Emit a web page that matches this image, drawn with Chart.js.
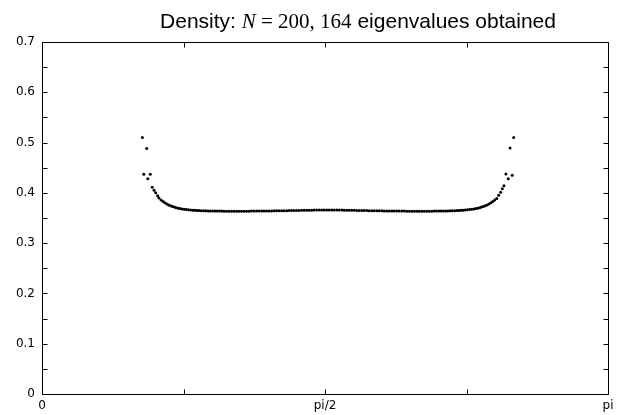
<!DOCTYPE html>
<html lang="en">
<head>
  <meta charset="UTF-8">
  <title>Density: N = 200, 164 eigenvalues obtained</title>
  <script src="https://cdn.jsdelivr.net/npm/chart.js"></script>
  <style>
    html, body { margin: 0; padding: 0; background: #fff; }
  </style>
</head>
<body>
  <canvas id="density" width="624" height="415"></canvas>
  <script>
    // left edge of the spectrum (sparse points)
    const edgeLeftTheta   = [0.557, 0.581, 0.565, 0.601, 0.587, 0.612, 0.622, 0.631, 0.642, 0.649];
    const edgeLeftDensity = [0.510, 0.488, 0.437, 0.437, 0.428, 0.411, 0.405, 0.400, 0.394, 0.390];

    // bulk of the spectrum
    const bulkTheta = [
      0.661, 0.672, 0.682, 0.693, 0.703, 0.714, 0.724, 0.735, 0.745, 0.756, 0.766,
      0.778, 0.790, 0.801, 0.813, 0.825, 0.837, 0.849, 0.860, 0.872, 0.884,
      0.897, 0.909, 0.922, 0.934, 0.947, 0.960, 0.972, 0.985, 0.997, 1.010,
      1.024, 1.038, 1.052, 1.066, 1.080, 1.093, 1.107, 1.121, 1.135, 1.149,
      1.163, 1.177, 1.191, 1.205, 1.219, 1.232, 1.246, 1.260, 1.274, 1.288,
      1.302, 1.316, 1.330, 1.344, 1.358, 1.371, 1.385, 1.399, 1.413, 1.427,
      1.441, 1.455, 1.469, 1.483, 1.497, 1.510, 1.524, 1.538, 1.552, 1.566, 1.580,
      1.594, 1.608, 1.622, 1.636, 1.650, 1.664, 1.677, 1.691, 1.705, 1.719, 1.733,
      1.747, 1.761, 1.775, 1.789, 1.803, 1.816, 1.830, 1.844, 1.858, 1.872,
      1.886, 1.900, 1.914, 1.928, 1.942, 1.955, 1.969, 1.983, 1.997, 2.011,
      2.025, 2.039, 2.053, 2.067, 2.081, 2.094, 2.108, 2.122, 2.136, 2.150,
      2.164, 2.177, 2.189, 2.202, 2.214, 2.227, 2.240, 2.252, 2.265, 2.277,
      2.290, 2.302, 2.314, 2.325, 2.337, 2.349, 2.361, 2.373, 2.384, 2.396,
      2.408, 2.418, 2.429, 2.439, 2.450, 2.460, 2.471, 2.481, 2.492, 2.502, 2.513
    ];
    const bulkDensity = [
      0.3860, 0.3830, 0.3805, 0.3780, 0.3760, 0.3745, 0.3730, 0.3717, 0.3705, 0.3695, 0.3687,
      0.3679, 0.3672, 0.3667, 0.3663, 0.3659, 0.3656, 0.3653, 0.3650, 0.3648, 0.3646,
      0.3644, 0.3643, 0.3641, 0.3640, 0.3639, 0.3638, 0.3638, 0.3637, 0.3637, 0.3636,
      0.3636, 0.3636, 0.3635, 0.3635, 0.3635, 0.3635, 0.3635, 0.3636, 0.3636, 0.3636,
      0.3637, 0.3637, 0.3638, 0.3638, 0.3639, 0.3639, 0.3640, 0.3641, 0.3641, 0.3642,
      0.3643, 0.3644, 0.3645, 0.3645, 0.3646, 0.3647, 0.3648, 0.3649, 0.3650, 0.3651,
      0.3652, 0.3653, 0.3654, 0.3655, 0.3656, 0.3657, 0.3657, 0.3658, 0.3659, 0.3659, 0.3660,
      0.3660, 0.3659, 0.3659, 0.3658, 0.3657, 0.3657, 0.3656, 0.3655, 0.3654, 0.3653, 0.3652,
      0.3651, 0.3650, 0.3649, 0.3648, 0.3647, 0.3646, 0.3645, 0.3645, 0.3644, 0.3643,
      0.3642, 0.3641, 0.3641, 0.3640, 0.3639, 0.3639, 0.3638, 0.3638, 0.3637, 0.3637,
      0.3636, 0.3636, 0.3636, 0.3635, 0.3635, 0.3635, 0.3635, 0.3635, 0.3636, 0.3636,
      0.3636, 0.3637, 0.3637, 0.3638, 0.3638, 0.3639, 0.3640, 0.3641, 0.3643, 0.3644,
      0.3646, 0.3648, 0.3650, 0.3653, 0.3656, 0.3659, 0.3663, 0.3667, 0.3672, 0.3679,
      0.3687, 0.3695, 0.3705, 0.3717, 0.3730, 0.3745, 0.3760, 0.3780, 0.3805, 0.3830, 0.3860
    ];

    // right edge of the spectrum (sparse points)
    const edgeRightTheta   = [2.618, 2.598, 2.575, 2.610, 2.588, 2.564, 2.555, 2.546, 2.535, 2.524];
    const edgeRightDensity = [0.510, 0.489, 0.4375, 0.435, 0.428, 0.414, 0.408, 0.401, 0.395, 0.389];

    const xTickValues = [0, Math.PI / 4, Math.PI / 2, 3 * Math.PI / 4, Math.PI];
    const xTickLabels = ['0', '', 'pi/2', '', 'pi'];
    const yTickValues = [0, 0.05, 0.1, 0.15, 0.2, 0.25, 0.3, 0.35, 0.4, 0.45, 0.5, 0.55, 0.6, 0.65, 0.7];
    const yTickLabels = ['0', '', '0.1', '', '0.2', '', '0.3', '', '0.4', '', '0.5', '', '0.6', '', '0.7'];

    const titleParts = [
      { text: 'Density: ', font: '21px "Liberation Sans", Arial, sans-serif' },
      { text: 'N', font: 'italic 21px "Liberation Serif", "DejaVu Serif", serif' },
      { text: ' = 200, ', font: '21px "Liberation Serif", "DejaVu Serif", serif' },
      { text: '164', font: '21px "Liberation Serif", "DejaVu Serif", serif' },
      { text: ' eigenvalues obtained', font: '21px "Liberation Sans", Arial, sans-serif' }
    ];

    const TICK_FONT = { family: '"DejaVu Sans", Arial, sans-serif', size: 12 };
    const TICK_LEN = 5;

    function toPoints(xs, ys) {
      return xs.map((x, i) => ({ x: x, y: ys[i] }));
    }

    // gnuplot style box with inward ticks on all four sides, plus the mixed-font title
    const gnuplotFrame = {
      id: 'gnuplotFrame',
      afterDraw(chart) {
        const ctx = chart.ctx;
        const a = chart.chartArea;
        const xs = chart.scales.x;
        const ys = chart.scales.y;
        const L = Math.round(a.left) + 0.5, R = Math.round(a.right) + 0.5;
        const T = Math.round(a.top) + 0.5, B = Math.round(a.bottom) + 0.5;
        ctx.save();
        ctx.strokeStyle = '#000';
        ctx.lineWidth = 1;
        ctx.beginPath();
        ctx.rect(L, T, R - L, B - T);
        xs.ticks.forEach(t => {
          const px = Math.round(xs.getPixelForValue(t.value)) + 0.5;
          ctx.moveTo(px, B); ctx.lineTo(px, B - TICK_LEN);
          ctx.moveTo(px, T); ctx.lineTo(px, T + TICK_LEN);
        });
        ys.ticks.forEach(t => {
          const py = Math.round(ys.getPixelForValue(t.value)) + 0.5;
          ctx.moveTo(L, py); ctx.lineTo(L + TICK_LEN, py);
          ctx.moveTo(R, py); ctx.lineTo(R - TICK_LEN, py);
        });
        ctx.stroke();

        // title
        ctx.fillStyle = '#000';
        ctx.textBaseline = 'alphabetic';
        ctx.textAlign = 'left';
        let total = 0;
        titleParts.forEach(p => { ctx.font = p.font; total += ctx.measureText(p.text).width; });
        let x = 358 - total / 2;
        titleParts.forEach(p => {
          ctx.font = p.font;
          ctx.fillText(p.text, x, 28);
          x += ctx.measureText(p.text).width;
        });
        ctx.restore();
      }
    };

    new Chart(document.getElementById('density'), {
      type: 'scatter',
      data: {
        datasets: [{
          label: 'density',
          data: toPoints(edgeLeftTheta, edgeLeftDensity)
            .concat(toPoints(bulkTheta, bulkDensity))
            .concat(toPoints(edgeRightTheta, edgeRightDensity)),
          backgroundColor: '#000',
          borderWidth: 0,
          pointRadius: 1.5,
          pointHoverRadius: 1.5
        }]
      },
      options: {
        responsive: false,
        animation: false,
        layout: { padding: { top: 42, right: 16, left: 0, bottom: 0 } },
        plugins: {
          legend: { display: false },
          title: { display: false },
          tooltip: { enabled: false }
        },
        scales: {
          x: {
            type: 'linear',
            min: 0,
            max: Math.PI,
            afterBuildTicks: s => { s.ticks = xTickValues.map(v => ({ value: v })); },
            afterFit: s => { s.height = 21; },
            grid: { display: false, drawTicks: false },
            border: { display: false },
            ticks: {
              autoSkip: false,
              maxRotation: 0,
              padding: 5,
              color: '#000',
              font: TICK_FONT,
              callback: (v, i) => xTickLabels[i]
            }
          },
          y: {
            min: 0,
            max: 0.7,
            afterBuildTicks: s => { s.ticks = yTickValues.map(v => ({ value: v })); },
            afterFit: s => { s.width = 42; },
            grid: { display: false, drawTicks: false },
            border: { display: false },
            ticks: {
              autoSkip: false,
              padding: 7,
              color: '#000',
              font: TICK_FONT,
              callback: (v, i) => yTickLabels[i]
            }
          }
        }
      },
      plugins: [gnuplotFrame]
    });
  </script>
</body>
</html>
